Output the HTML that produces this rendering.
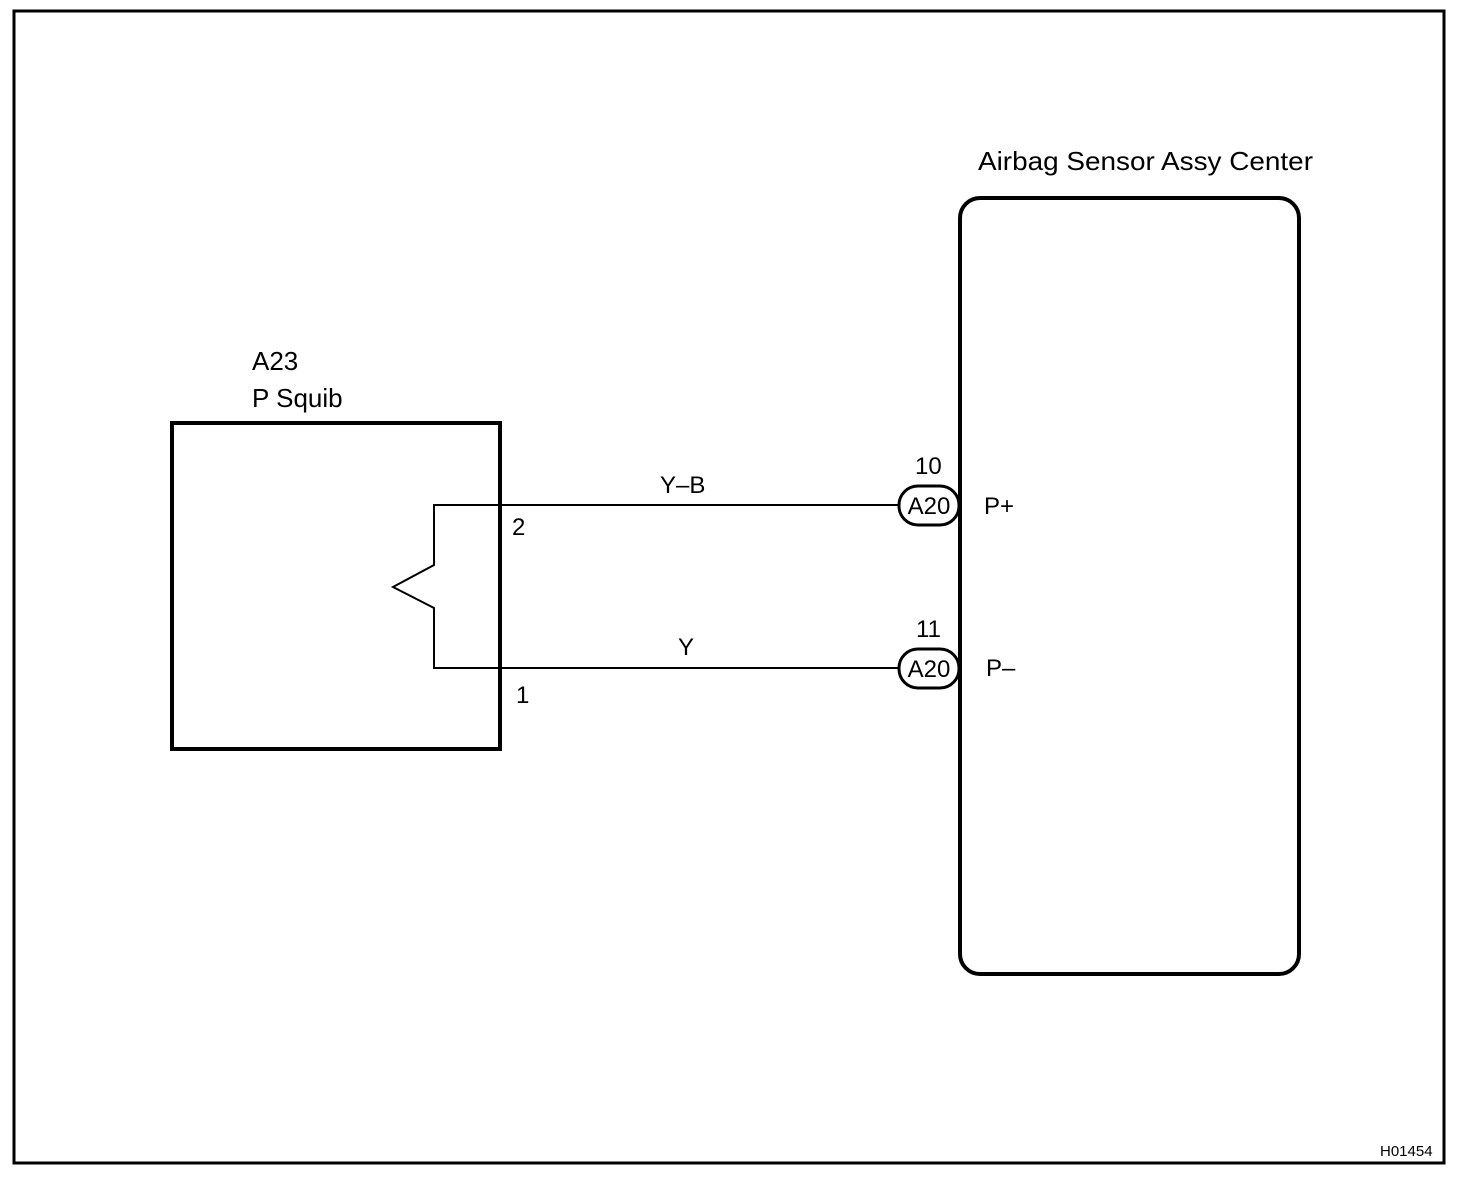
<!DOCTYPE html>
<html><head><meta charset="utf-8"><style>
html,body{margin:0;padding:0;background:#fff;}
svg{display:block;}
text{font-family:"Liberation Sans",sans-serif;fill:#000;}
</style></head><body>
<svg width="1472" height="1178" viewBox="0 0 1472 1178" xmlns="http://www.w3.org/2000/svg">
<rect x="14" y="11" width="1430" height="1152" fill="none" stroke="#000" stroke-width="3"/>
<text x="1380" y="1156" font-size="15">H01454</text>

<text x="978" y="170" font-size="26" textLength="335" lengthAdjust="spacingAndGlyphs">Airbag Sensor Assy Center</text>
<rect x="960" y="198" width="339" height="776" rx="20" fill="none" stroke="#000" stroke-width="4"/>

<text x="252" y="370" font-size="26">A23</text>
<text x="252" y="407" font-size="26">P Squib</text>
<rect x="172" y="423" width="328" height="326" fill="none" stroke="#000" stroke-width="4"/>

<polyline points="900,505 434,505 434,565 393,587 434,608 434,668 900,668" fill="none" stroke="#000" stroke-width="2"/>

<text x="512" y="535" font-size="24">2</text>
<text x="516" y="703" font-size="24">1</text>
<text x="660" y="493" font-size="24">Y–B</text>
<text x="678" y="655" font-size="24">Y</text>

<rect x="899" y="486" width="60" height="39" rx="19" fill="#fff" stroke="#000" stroke-width="3"/>
<text x="929" y="514" font-size="24" text-anchor="middle">A20</text>
<text x="915" y="474" font-size="24">10</text>
<rect x="899" y="649" width="60" height="39" rx="19" fill="#fff" stroke="#000" stroke-width="3"/>
<text x="929" y="677" font-size="24" text-anchor="middle">A20</text>
<text x="916" y="637" font-size="24">11</text>

<line x1="960" y1="480" x2="960" y2="700" stroke="#000" stroke-width="4"/>
<text x="984" y="514" font-size="24">P+</text>
<text x="986" y="676" font-size="24">P–</text>
</svg>
</body></html>
